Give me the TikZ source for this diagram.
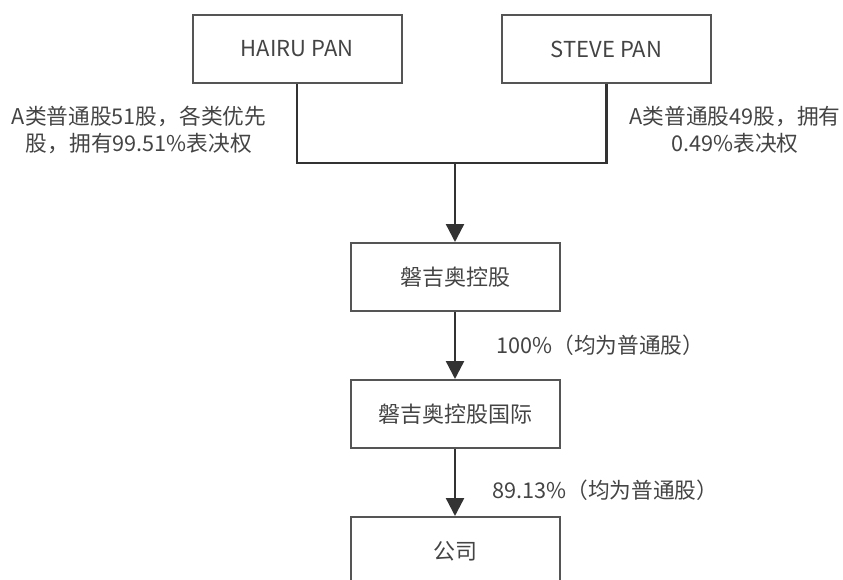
\documentclass[tikz,border=0pt]{standalone}
\usepackage{fontspec}
\setmainfont{Noto Sans CJK SC}
\usetikzlibrary{arrows.meta}
\definecolor{boxline}{HTML}{555555}
\definecolor{conn}{HTML}{333333}
\definecolor{txt}{HTML}{444444}
\tikzset{
  entity/.style={draw=boxline, line width=2pt, minimum width=209pt, minimum height=68pt, inner sep=0pt, text=txt, font=\fontsize{22}{27}\selectfont},
  lbl/.style={text=txt, font=\fontsize{21.7}{27}\selectfont, inner sep=0pt, align=center},
  link/.style={draw=conn, line width=2.4pt},
  arr/.style={link, -{Triangle[width=18pt,length=18pt]}}
}
\begin{document}
\begin{tikzpicture}[x=1pt,y=-1pt]
\useasboundingbox (0,0) rectangle (843,580);
\clip (0,0) rectangle (843,580);
\node[entity] (h) at (297,49) {HAIRU PAN};
\node[entity] (s) at (606.5,49) {STEVE PAN};
\node[entity] (k) at (455,277) {磐吉奥控股};
\node[entity] (g) at (455,414) {磐吉奥控股国际};
\node[entity] (c) at (455,551) {公司};
\coordinate (j) at (455,163);
\draw[link] (h.south) |- (j);
\draw[link] (s.south) |- (j);
\draw[arr] (j) -- (k.north);
\draw[arr] (k.south) -- (g.north);
\draw[arr] (g.south) -- (c.north);
\node[lbl] (l1) at (139,130) {A类普通股51股，各类优先\\股，拥有99.51\%表决权};
\node[lbl] (l2) at (735,130) {A类普通股49股，拥有\\0.49\%表决权};
\node[lbl, anchor=west] (l3) at (496,345) {100\%（均为普通股）};
\node[lbl, anchor=west] (l4) at (492,490) {89.13\%（均为普通股）};
\end{tikzpicture}
\end{document}
